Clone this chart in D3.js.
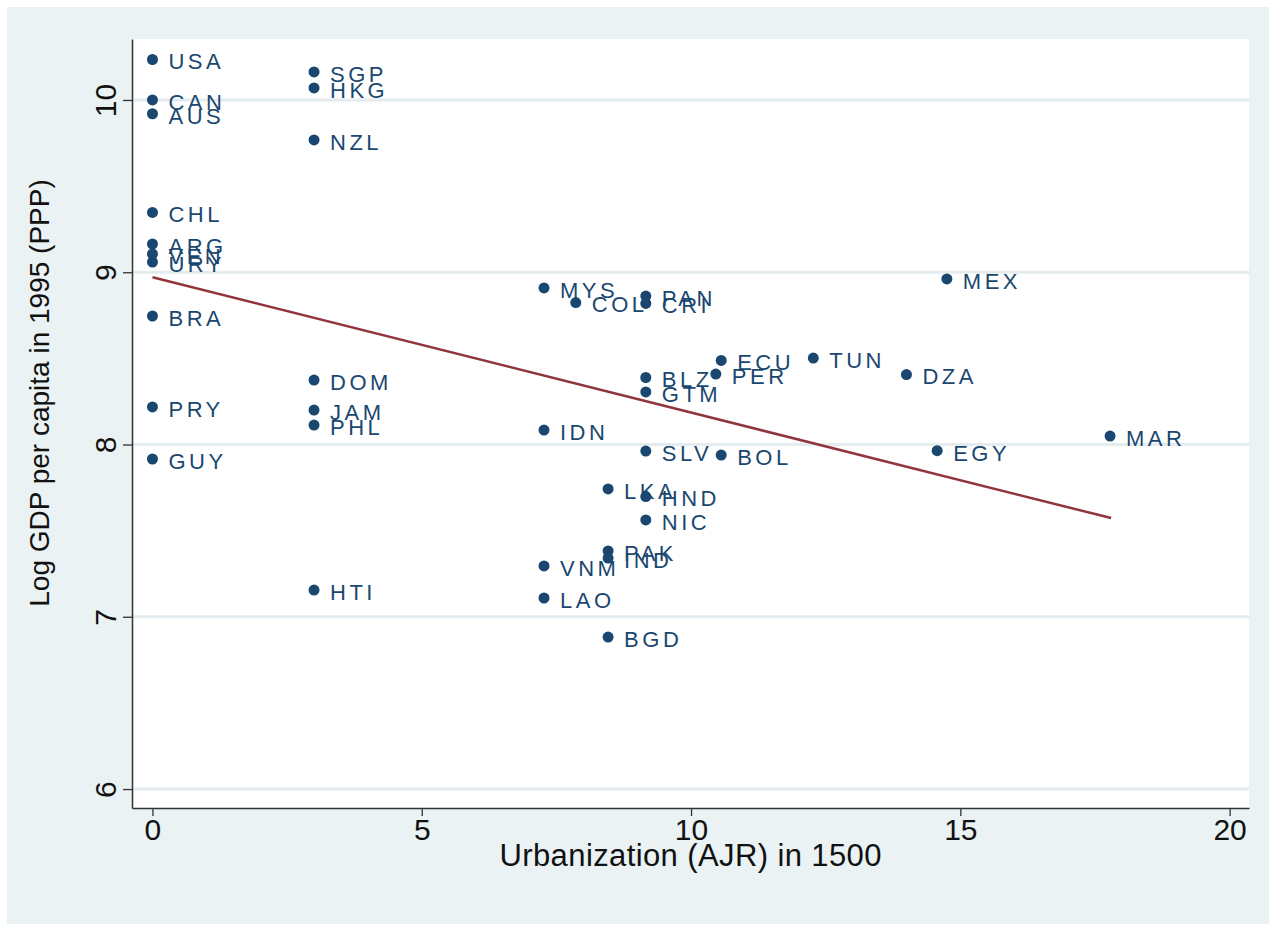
<!DOCTYPE html>
<html>
<head>
<meta charset="utf-8">
<script src="https://cdn.jsdelivr.net/npm/d3@7"></script>
<style>
    body { margin: 0; background: #ffffff; }
    #chart-area { width: 1281px; height: 929px; }
    text { font-family: "Liberation Sans", Arial, sans-serif; }
</style>
</head>
<body>
<div id="chart-area"></div>
<script>

// data
let countries = ["USA", "CAN", "AUS", "CHL", "ARG", "VEN", "URY", "BRA", "PRY", "GUY",
    "SGP", "HKG", "NZL", "DOM", "JAM", "PHL", "HTI",
    "MYS", "COL", "PAN", "CRI", "ECU", "PER", "TUN", "DZA", "MEX", "BLZ", "GTM",
    "IDN", "SLV", "BOL", "EGY", "MAR", "LKA", "HND", "NIC", "PAK", "IND", "VNM", "LAO", "BGD"];

let urbanization = [0, 0, 0, 0, 0, 0, 0, 0, 0, 0,
    3, 3, 3, 3, 3, 3, 3,
    7.27, 7.86, 9.16, 9.16, 10.56, 10.46, 12.27, 14.0, 14.75, 9.16, 9.16,
    7.27, 9.16, 10.56, 14.57, 17.78, 8.46, 9.16, 9.16, 8.46, 8.46, 7.27, 7.27, 8.46];

let logGdp = [10.235, 10.0, 9.92, 9.347, 9.164, 9.106, 9.059, 8.746, 8.218, 7.916,
    10.163, 10.07, 9.768, 8.374, 8.20, 8.113, 7.155,
    8.909, 8.824, 8.862, 8.819, 8.488, 8.409, 8.502, 8.406, 8.961, 8.389, 8.305,
    8.084, 7.962, 7.939, 7.964, 8.049, 7.742, 7.698, 7.562, 7.382, 7.341, 7.295, 7.109, 6.882];

// fitted line end points
let fitX = [0, 17.8];
let fitY = [8.971, 7.573];

let xTicks = [0, 5, 10, 15, 20];
let yTicks = [6, 7, 8, 9, 10];


class ScatterVis {

    constructor(parentElement){
        this.parentElement = parentElement;
        this.initVis();
    }

    initVis(){
        let vis = this;

        vis.margin = {top: 39, right: 32, bottom: 121, left: 132};
        vis.width = 1281 - vis.margin.left - vis.margin.right;
        vis.height = 929 - vis.margin.top - vis.margin.bottom;

        vis.root = d3.select("#" + vis.parentElement).append("svg")
            .attr("width", 1281)
            .attr("height", 929);

        // graph region background
        vis.root.append("rect")
            .attr("x", 7).attr("y", 7)
            .attr("width", 1262).attr("height", 917)
            .attr("fill", "#eaf2f3");

        vis.svg = vis.root.append("g")
            .attr("transform", `translate(${vis.margin.left}, ${vis.margin.top})`);

        // plot region
        vis.svg.append("rect")
            .attr("width", vis.width)
            .attr("height", vis.height)
            .attr("fill", "#ffffff");

        vis.x = d3.scaleLinear()
            .domain([-0.38, 20.36])
            .range([0, vis.width]);

        vis.y = d3.scaleLinear()
            .domain([5.89, 10.354])
            .range([vis.height, 0]);

        vis.wrangleData();
    }

    wrangleData(){
        let vis = this;

        vis.points = countries.map((c, i) => ({
            name: c,
            urban: urbanization[i],
            gdp: logGdp[i]
        }));

        vis.fit = fitX.map((d, i) => ({urban: d, gdp: fitY[i]}));

        vis.updateVis();
    }

    updateVis(){
        let vis = this;

        // grid lines
        vis.svg.selectAll(".grid")
            .data(yTicks)
            .join("line")
            .attr("class", "grid")
            .attr("x1", 0)
            .attr("x2", vis.width)
            .attr("y1", d => vis.y(d))
            .attr("y2", d => vis.y(d))
            .attr("stroke", "#e4ecef")
            .attr("stroke-width", 3);

        // axes
        vis.xAxis = d3.axisBottom(vis.x)
            .tickValues(xTicks)
            .tickFormat(d3.format("d"))
            .tickSize(8)
            .tickPadding(3)
            .tickSizeOuter(0);

        vis.yAxis = d3.axisLeft(vis.y)
            .tickValues(yTicks)
            .tickFormat(d3.format("d"))
            .tickSize(9)
            .tickSizeOuter(0);

        vis.xAxisGroup = vis.svg.append("g")
            .attr("class", "x-axis")
            .attr("transform", `translate(0, ${vis.height})`)
            .call(vis.xAxis);

        vis.yAxisGroup = vis.svg.append("g")
            .attr("class", "y-axis")
            .call(vis.yAxis);

        [vis.xAxisGroup, vis.yAxisGroup].forEach(g => {
            g.select(".domain").attr("stroke", "#333333").attr("stroke-width", 1.5);
            g.selectAll(".tick line").attr("stroke", "#333333").attr("stroke-width", 1.3);
            g.selectAll(".tick text")
                .attr("fill", "#111111")
                .style("font-size", "30px");
        });

        vis.xAxisGroup.selectAll(".tick text").attr("dy", "0.71em");

        vis.yAxisGroup.selectAll(".tick text")
            .attr("x", null)
            .attr("dy", null)
            .attr("text-anchor", "middle")
            .attr("transform", "translate(-16, 0) rotate(-90)");

        // axis titles
        vis.svg.append("text")
            .attr("class", "x-title")
            .attr("x", vis.width / 2)
            .attr("y", vis.height + 58)
            .attr("text-anchor", "middle")
            .attr("fill", "#111111")
            .style("font-size", "31px")
            .attr("textLength", 382)
            .text("Urbanization (AJR) in 1500");

        vis.svg.append("text")
            .attr("class", "y-title")
            .attr("transform", `translate(-83, ${354}) rotate(-90)`)
            .attr("text-anchor", "middle")
            .attr("fill", "#111111")
            .style("font-size", "28px")
            .text("Log GDP per capita in 1995 (PPP)");

        // fitted values
        vis.line = d3.line()
            .x(d => vis.x(d.urban))
            .y(d => vis.y(d.gdp));

        vis.svg.append("path")
            .datum(vis.fit)
            .attr("class", "fitLine")
            .attr("d", vis.line)
            .attr("fill", "none")
            .attr("stroke", "#90353b")
            .attr("stroke-width", 2.5);

        // points
        vis.svg.selectAll(".scatter")
            .data(vis.points)
            .join("circle")
            .attr("class", "scatter")
            .attr("r", 5.5)
            .attr("fill", "#1a476f")
            .attr("cx", d => vis.x(d.urban))
            .attr("cy", d => vis.y(d.gdp));

        // marker labels
        vis.svg.selectAll(".marker-label")
            .data(vis.points)
            .join("text")
            .attr("class", "marker-label")
            .attr("x", d => vis.x(d.urban) + 16)
            .attr("y", d => vis.y(d.gdp) + 2)
            .attr("dy", "0.36em")
            .attr("fill", "#1a476f")
            .style("font-size", "22px")
            .style("letter-spacing", "3.5px")
            .text(d => d.name);
    }
}

let scatterVis = new ScatterVis("chart-area");

</script>
</body>
</html>
